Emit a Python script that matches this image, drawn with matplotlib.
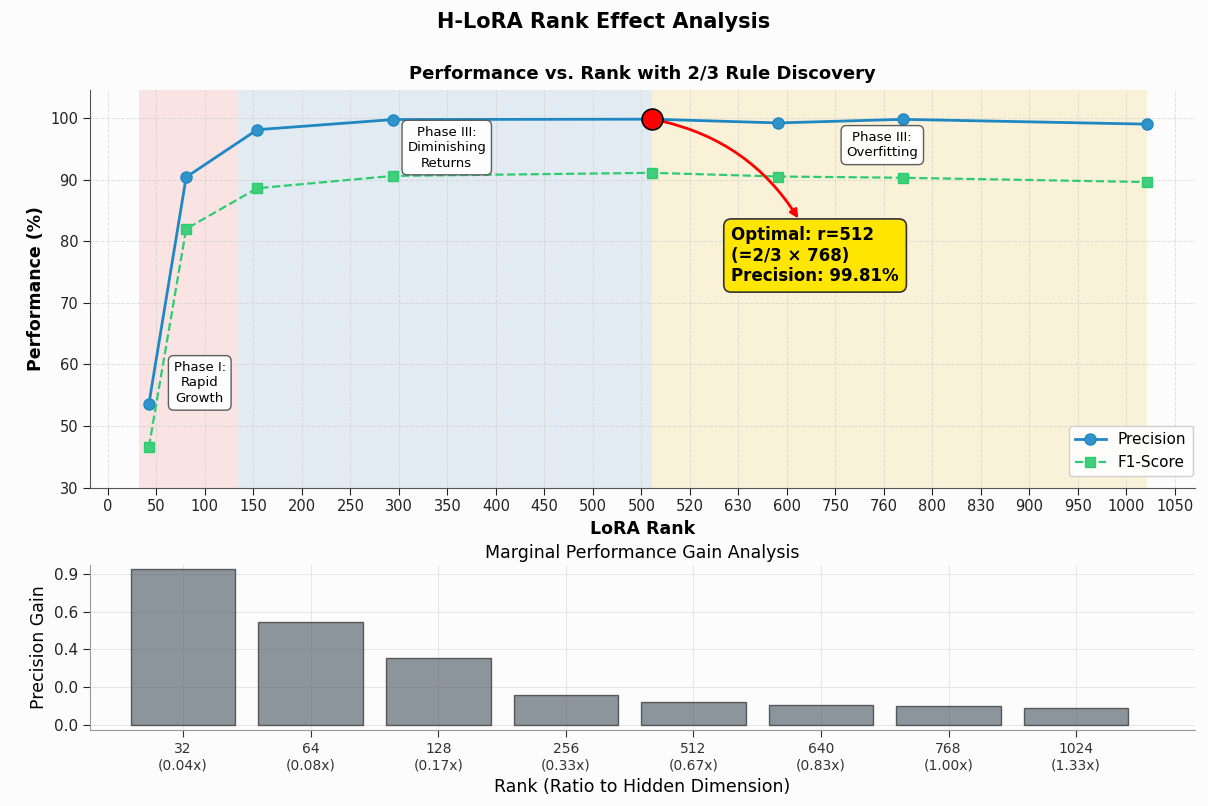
import matplotlib.pyplot as plt
import numpy as np

# Data
ranks = [32, 64, 128, 256, 512, 640, 768, 1024]
precision = [53.6, 90.4, 98.1, 99.75, 99.81, 99.2, 99.78, 99.0]
f1_score = [46.6, 82.0, 88.6, 90.6, 91.1, 90.5, 90.3, 89.6]
gain = [0.827, 0.544, 0.357, 0.160, 0.123, 0.107, 0.101, 0.091]
hidden_dim = 768

x_tick_labels = ['0', '50', '100', '150', '200', '250', '300', '350', '400', '450',
                 '500', '500', '520', '630', '600', '750', '760', '800', '830', '900',
                 '950', '1000', '1050']
y_tick_values = [40, 50, 60, 70, 80, 90, 100]
y_tick_labels = ['30', '50', '60', '70', '80', '90', '100']
gain_tick_values = [0.0, 0.2, 0.4, 0.6, 0.8]
gain_tick_labels = ['0.0', '0.0', '0.4', '0.6', '0.9']

# phases (rank ranges)
phases = [(24, 110, '#f4a3a3', 0.27), (110, 512, '#a9c6de', 0.3), (512, 1024, '#f7d98b', 0.3)]

# rank axis is slightly compressed (power scale)
P = 0.933
C = 0.0333


def fwd(r):
    r = np.asarray(r, dtype=float)
    return np.sign(r) * C * np.abs(r) ** P


def inv(p):
    p = np.asarray(p, dtype=float)
    return np.sign(p) * (np.abs(p) / C) ** (1 / P)


bg = '#fcfcfc'
fig = plt.figure(figsize=(12.08, 8.06), dpi=100, facecolor=bg)
ax1 = fig.add_axes([0.0745, 0.395, 0.9145, 0.493], facecolor=bg)
ax2 = fig.add_axes([0.0745, 0.094, 0.9145, 0.205], facecolor=bg)

fig.suptitle('H-LoRA Rank Effect Analysis', fontsize=15, fontweight='bold', y=0.985)

# ---- top: performance vs rank ----
ax1.set_xscale('function', functions=(fwd, inv))
for lo, hi, col, a in phases:
    ax1.axvspan(lo, hi, color=col, alpha=a, lw=0, zorder=0)

ax1.plot(ranks, precision, '-o', color='#1f88c2', mfc='#2f93cc', lw=2, ms=8,
         label='Precision', zorder=3)
ax1.plot(ranks, f1_score, '--s', color='#2ecc71', mfc='#3fcf7c', lw=1.6, ms=6.5,
         label='F1-Score', zorder=3)

best = ranks.index(512)
ax1.plot(ranks[best], precision[best], 'o', color='red', mec='black', mew=1.2,
         ms=15, zorder=5)
ax1.annotate('', xy=(662, 83.3), xytext=(ranks[best], precision[best]),
             arrowprops=dict(arrowstyle='-|>', color='red', lw=2, mutation_scale=12,
                             shrinkA=7, connectionstyle='arc3,rad=-0.22'), zorder=4)
ax1.text(592, 82.4, 'Optimal: r=512\n(=2/3 × 768)\nPrecision: 99.81%',
         fontsize=12, fontweight='bold', va='top', ha='left', linespacing=1.15,
         bbox=dict(boxstyle='round,pad=0.45', fc='#ffe600', ec='#333333', lw=1.2),
         zorder=6)

box = dict(boxstyle='round,pad=0.4', fc='white', ec='#555555', lw=1, alpha=0.95)
ax1.text(76, 57.0, 'Phase I:\nRapid\nGrowth', fontsize=9.5, ha='center', va='center',
         bbox=box, zorder=4, linespacing=1.25)
ax1.text(308, 95.2, 'Phase III:\nDiminishing\nReturns', fontsize=9.5, ha='center',
         va='center', bbox=box, zorder=4, linespacing=1.25)
ax1.text(747, 95.6, 'Phase III:\nOverfitting', fontsize=9.5, ha='center', va='center',
         bbox=box, zorder=4, linespacing=1.25)

ax1.set_xticks(inv(np.arange(len(x_tick_labels))), labels=x_tick_labels)
ax1.set_xlim(inv(-0.37), inv(22.41))
ax1.set_yticks(y_tick_values, labels=y_tick_labels)
ax1.set_ylim(40, 104.5)
ax1.tick_params(labelsize=10.5, colors='#222222', length=5)
ax1.set_xlabel('LoRA Rank', fontsize=12.5, fontweight='bold')
ax1.set_ylabel('Performance (%)', fontsize=12.5, fontweight='bold')
ax1.set_title('Performance vs. Rank with 2/3 Rule Discovery', fontsize=13,
              fontweight='bold', pad=8)
ax1.grid(True, ls='--', lw=0.7, color='#cccccc', alpha=0.6)
ax1.legend(loc='lower right', fontsize=11, framealpha=0.9, edgecolor='#cccccc',
           bbox_to_anchor=(1.005, 0.01))
for s in ['top', 'right']:
    ax1.spines[s].set_visible(False)
for s in ['left', 'bottom']:
    ax1.spines[s].set_color('#555555')

# ---- bottom: marginal gain ----
idx = np.arange(len(ranks))
ax2.bar(idx, gain, width=0.82, color='#5d6873', alpha=0.7, edgecolor='#2b2b2b',
        lw=1, zorder=3)
ax2.set_xticks(idx, labels=[f'{r}\n({r / hidden_dim:.2f}x)' for r in ranks])
ax2.set_xlim(-0.73, 7.93)
ax2.set_yticks(gain_tick_values, labels=gain_tick_labels)
ax2.set_ylim(-0.03, 0.85)
ax2.tick_params(axis='x', labelsize=10, colors='#333333', length=5)
ax2.tick_params(axis='y', labelsize=11, colors='#222222', length=5)
ax2.set_xlabel('Rank (Ratio to Hidden Dimension)', fontsize=12.5)
ax2.set_ylabel('Precision Gain', fontsize=12.5)
ax2.set_title('Marginal Performance Gain Analysis', fontsize=12.5, pad=5)
ax2.grid(True, ls='-', lw=0.7, color='#e6e6e6')
for s in ['top', 'right']:
    ax2.spines[s].set_visible(False)
for s in ['left', 'bottom']:
    ax2.spines[s].set_color('#999999')

fig.savefig('out.png', dpi=100, facecolor=bg)
